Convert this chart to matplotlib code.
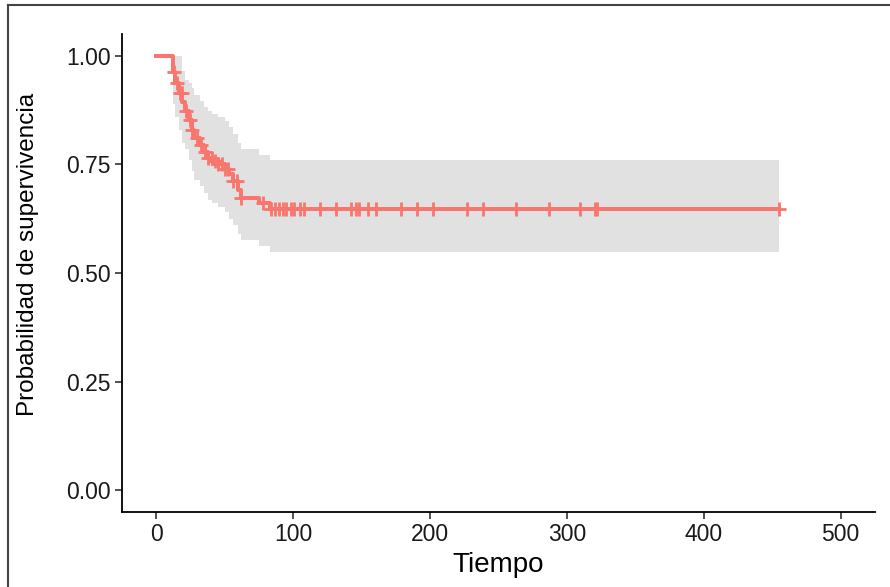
import numpy as np
import matplotlib
matplotlib.use("Agg")
import matplotlib.pyplot as plt
from matplotlib.lines import Line2D

plt.rcParams['font.family'] = ['Liberation Sans', 'DejaVu Sans']

# Kaplan-Meier estimate
tiempos = [0, 12, 14, 17, 19, 21, 24, 26, 28, 32, 35, 38, 41, 45, 50, 53, 56, 60, 62, 75, 83, 455]
superv = [1.0, 0.962, 0.938, 0.915, 0.893, 0.872, 0.852, 0.830, 0.810, 0.795, 0.778, 0.765,
          0.757, 0.750, 0.740, 0.727, 0.712, 0.692, 0.673, 0.662, 0.647, 0.647]
inferior = [1.0, 0.89, 0.86, 0.83, 0.80, 0.785, 0.76, 0.735, 0.715, 0.70, 0.685, 0.668,
            0.66, 0.652, 0.64, 0.625, 0.61, 0.59, 0.575, 0.563, 0.548, 0.548]
superior = [1.0, 1.0, 1.0, 1.0, 0.965, 0.945, 0.938, 0.925, 0.91, 0.895, 0.883, 0.872,
            0.865, 0.858, 0.85, 0.835, 0.82, 0.80, 0.785, 0.772, 0.76, 0.76]

# censored observations
censura = [13, 15, 17.5, 18.7, 22, 24.5, 26, 30, 33, 35.7, 38, 40.5, 43, 45.5, 48, 50.5,
           52.6, 56, 59, 62, 78, 84, 86.6, 90, 92.7, 95, 98.8, 101, 105, 107.7, 119.4,
           131.5, 142.4, 146, 148.5, 154.5, 160.6, 178.8, 190.2, 202.3, 227.3, 238.6,
           262.9, 286.8, 309.8, 320.7, 321.9, 455]

x_ticks = [0, 100, 200, 300, 400, 500]
y_ticks = [0.0, 0.25, 0.5, 0.75, 1.0]

rojo = '#F8766D'

fig = plt.figure(figsize=(8.9, 5.87), dpi=100)
ax = fig.add_axes([0.137, 0.128, 0.846, 0.814])

ax.fill_between(tiempos, inferior, superior, step='post', color='#E1E1E1', lw=0, zorder=1)
ax.step(tiempos, superv, where='post', color=rojo, lw=2.9, zorder=3)

t = np.array(tiempos)
s = np.array(superv)
idx = np.searchsorted(t, censura, side='right') - 1
ax.plot(censura, s[idx], ls='none', marker='+', ms=10, mew=2.0, color=rojo, zorder=4)

ax.set_xlim(-25, 525)
ax.set_ylim(-0.05, 1.05)
ax.set_xticks(x_ticks)
ax.set_yticks(y_ticks)
ax.set_yticklabels(['%.2f' % v for v in y_ticks])

for side in ['top', 'right']:
    ax.spines[side].set_visible(False)
for side in ['left', 'bottom']:
    ax.spines[side].set_linewidth(1.3)
    ax.spines[side].set_color('black')

ax.tick_params(axis='both', length=5, width=1.2, color='#333333', labelsize=16.5,
               labelcolor='#1a1a1a', pad=3)

ax.set_xlabel('Tiempo', fontsize=20, labelpad=4)
ax.set_ylabel('Probabilidad de supervivencia', fontsize=17.5)
ax.yaxis.set_label_coords(-0.110, 0.538)

# outer frame of the picture (top and left edges)
fig.add_artist(Line2D([8 / 890, 8 / 890], [0, 1 - 5 / 587], transform=fig.transFigure,
                      color='#444444', lw=1.5))
fig.add_artist(Line2D([8 / 890, 1], [1 - 5 / 587, 1 - 5 / 587], transform=fig.transFigure,
                      color='#444444', lw=1.5))

fig.savefig('out.png', dpi=100)
